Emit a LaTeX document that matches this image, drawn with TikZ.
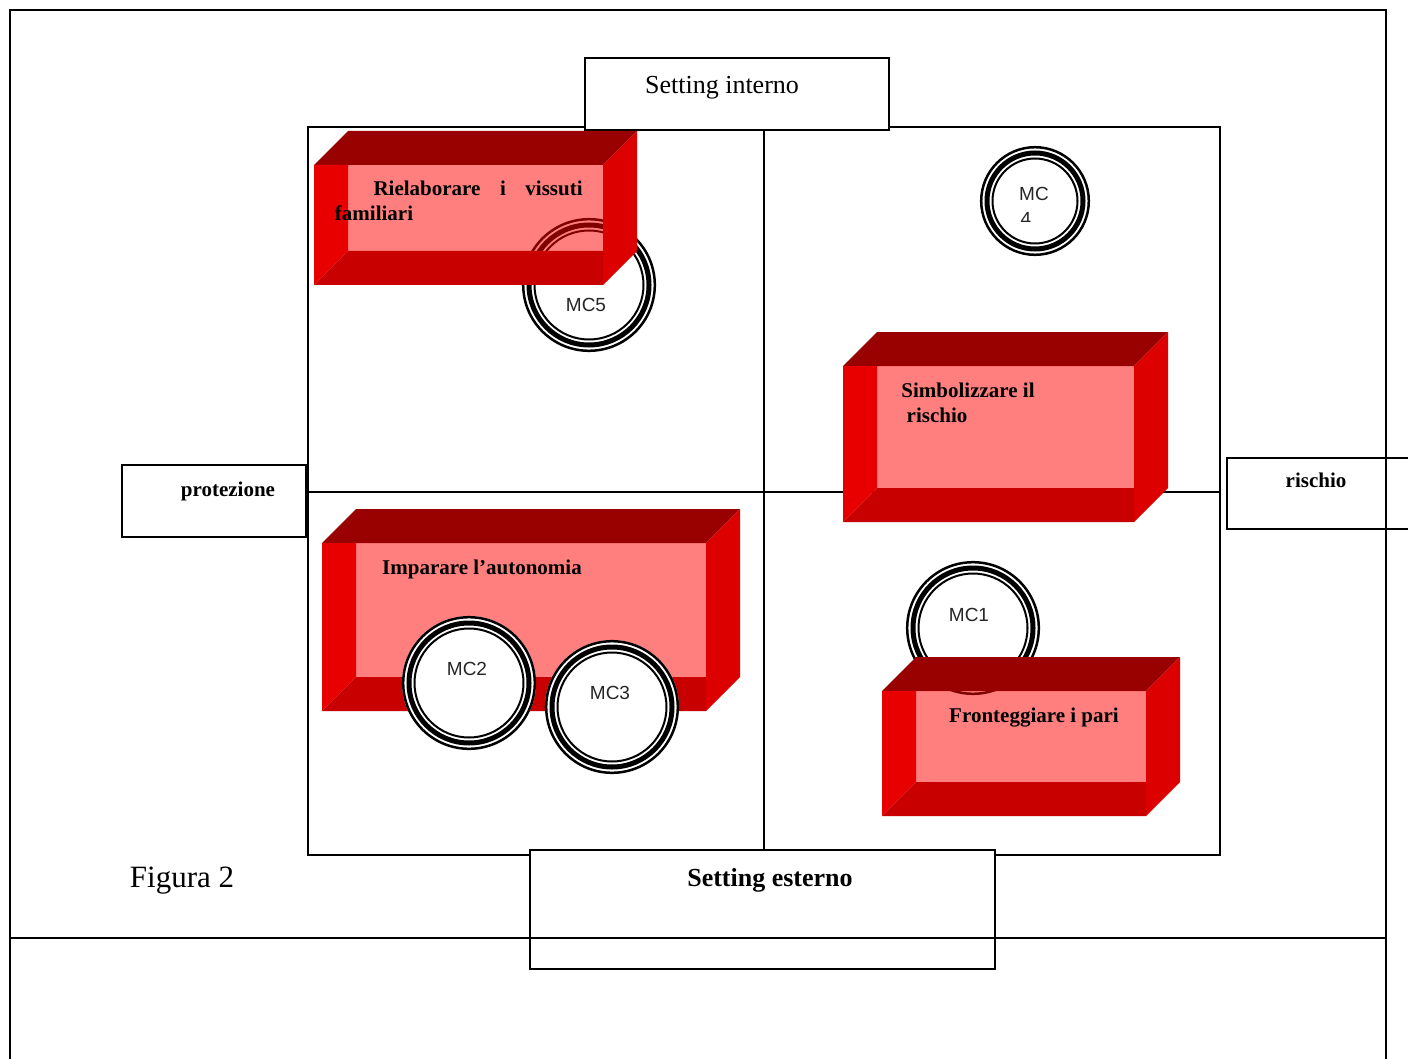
\documentclass[tikz,border=0pt]{standalone}
\usepackage{fontspec}
\setmainfont{Liberation Serif}
\newfontfamily\arialf{Liberation Sans}
\definecolor{topc}{HTML}{990000}
\definecolor{leftc}{HTML}{E80000}
\definecolor{botc}{HTML}{C80000}
\definecolor{rightc}{HTML}{DC0000}
\newcommand\cubebox[4]{%
  \fill[topc] (#1,#2+34) -- (#1+34,#2) -- (#3,#2) -- (#3-34,#2+34) -- cycle;
  \fill[leftc] (#1,#2+34) -- (#1+34,#2+34) -- (#1+34,#4-34) -- (#1,#4) -- cycle;
  \fill[botc] (#1,#4) -- (#1+34,#4-34) -- (#3-34,#4-34) -- (#3-34,#4) -- cycle;
  \fill[rightc] (#3-34,#2+34) -- (#3,#2) -- (#3,#4-34) -- (#3-34,#4) -- cycle;
  \fill[red, fill opacity=0.5] (#1+34,#2+34) rectangle (#3-34,#4-34);
}
\newcommand\mcring[3]{%
  \fill[white] (#1,#2) circle[radius=#3];
  \draw[line width=2.5pt] (#1,#2) circle[radius=#3-1.2];
  \draw[line width=5pt] (#1,#2) circle[radius=#3-7];
  \draw[line width=2pt] (#1,#2) circle[radius=#3-12.5];
}
\begin{document}
\begin{tikzpicture}[x=1pt,y=-1pt,
  frame/.style={line width=2pt, black},
  lbl/.style={font=\fontsize{21}{25}\selectfont\bfseries, inner sep=0pt, anchor=base},
  mclbl/.style={font=\arialf\fontsize{19}{23}\selectfont, text=black!85, inner sep=0pt, anchor=base},
  whitebox/.style={draw=black, line width=2pt, fill=white},
  openbox/.style={draw=black, line width=2pt}
]
\clip (0,0) rectangle (1408,1059);
\fill[white] (0,0) rectangle (1408,1059);

% outer frame
\draw[frame] (10,1070) -- (10,10) -- (1386,10) -- (1386,1070);

% quadrant grid
\draw[frame] (308,127) rectangle (1220,855);
\draw[frame] (764,127) -- (764,855);
\draw[frame] (308,492) -- (1220,492);

% setting interno
\draw[whitebox] (585,58) rectangle (889,130);
\node[font=\fontsize{26}{30}\selectfont, inner sep=0pt, anchor=base] (sint) at (722,94) {Setting interno};

% circles behind boxes
\mcring{589}{285}{67}
\mcring{1035}{201}{55}
\mcring{973}{628}{67}

% red cubes
\cubebox{314}{131}{637}{285}
\cubebox{843}{332}{1168}{522}
\cubebox{322}{509}{740}{711}
\cubebox{882}{657}{1180}{816}

% circles in front
\mcring{469}{683}{67}
\mcring{612}{707}{67}

% cube texts
\node[lbl] (r1) at (427,196) {Rielaborare};
\node[lbl] (r2) at (503,196) {i};
\node[lbl] (r3) at (554,196) {vissuti};
\node[lbl] (r4) at (374,221) {familiari};
\node[lbl] (s1) at (968,397) {Simbolizzare il};
\node[lbl] (s2) at (937,422) {rischio};
\node[lbl] (im) at (482,574) {Imparare l’autonomia};
\node[lbl] (fr) at (1034,722) {Fronteggiare i pari};

% circle labels
\node[mclbl] (mc5) at (586,312) {MC5};
\node[mclbl] (mc4) at (1034,201) {MC};
\begin{scope}
  \clip (980,150) rectangle (1090,221.5);
  \node[mclbl] (mc4b) at (1026,226) {4};
\end{scope}
\node[mclbl] (mc1) at (969,621) {MC1};
\node[mclbl] (mc2) at (467,675) {MC2};
\node[mclbl] (mc3) at (610,699) {MC3};

% side boxes
\draw[whitebox] (122,465) rectangle (306,537);
\node[lbl] (prot) at (228,496) {protezione};
\draw[openbox] (1227,458) rectangle (1420,529);
\node[lbl] (risc) at (1316,487) {rischio};

% setting esterno
\draw[whitebox] (530,850) rectangle (995,969);
\node[lbl, font=\fontsize{26}{30}\selectfont\bfseries] (sest) at (770,886) {Setting esterno};

\draw[frame] (10,938) -- (1386,938);

\node[font=\fontsize{31}{35}\selectfont, inner sep=0pt, anchor=base] (fig) at (182,887) {Figura 2};
\end{tikzpicture}
\end{document}
